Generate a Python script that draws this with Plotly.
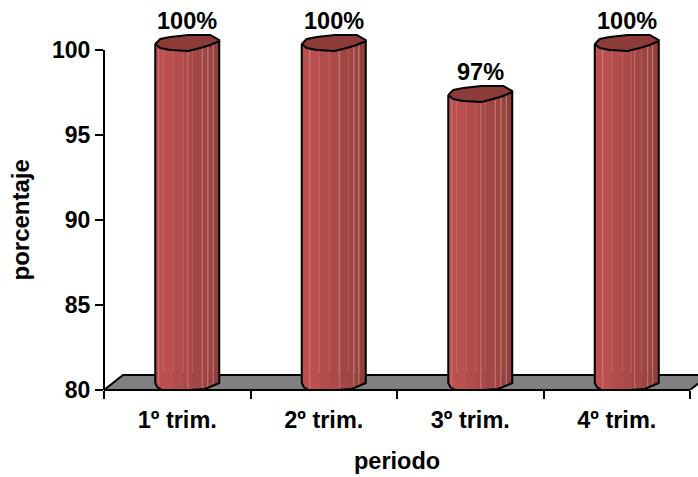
import numpy as np
import plotly.graph_objects as go

# Quarterly percentages
categories = ["1º trim.", "2º trim.", "3º trim.", "4º trim."]
values = [100, 100, 97, 100]
y_ticks = [80, 85, 90, 95, 100]

# Pixel scale of the value area, used to turn 3D-look offsets into data units
PLOT_L, PLOT_R, PLOT_T, PLOT_B = 104, 690, 50, 390
W, H = 698, 477
PX_X = (PLOT_R - PLOT_L) / len(categories)
PX_Y = (PLOT_B - PLOT_T) / (y_ticks[-1] - y_ticks[0])
dx = lambda p: np.asarray(p, float) / PX_X
# screen offsets grow downwards, data values upwards
dy = lambda p: -np.asarray(p, float) / PX_Y

# Cylinder outline, in pixels relative to the bar centre and its front top edge
BAR_SHIFT = 10
top_back = ([-32, -27, -17, 1, 23, 32], [-6, -11, -13, -15, -15, -10])
top_front = ([-32, -27, -17, 1, 13, 23, 32], [-6, -2, 0, 1, -2, -5, -9])
bottom = ([-32, -30, -25, 3, 18, 32], [-7, -3, 0, 0, -1, -7])

# Vertical shading bands of the cylinder body
bands = [(-32, -24, "#ba514f"), (-24, -14, "#bb514f"), (-14, -4, "#b34d4b"),
         (-4, 5, "#ab4a48"), (5, 15, "#a34745"), (15, 21, "#9e4543"),
         (21, 26, "#994341"), (26, 32, "#903f3d")]
# Facet lines differ slightly from one cylinder to the next
highlights = [[-28.5, 0.5, 15, 20.5, 26], [-24, 6, 20, 25], [-28.5, 0.5, 15, 20.5, 26], [-24, 8, 21, 26]]

fig = go.Figure()

# Grey floor of the 3D chart
floor_x = [0, dx(19), 4 + dx(19), 4, 0]
floor_y = [80, 80 + dy(-15), 80 + dy(-15), 80, 80]
fig.add_trace(go.Scatter(x=floor_x, y=floor_y, mode="lines", fill="toself", fillcolor="#808080",
                         line=dict(color="black", width=2), hoverinfo="skip"))

for i, v in enumerate(values):
    cx = i + 0.5 + dx(BAR_SHIFT)
    # shaded strips of the body
    for x0, x1, colour in bands:
        xs = np.linspace(x0, x1, 6)
        upper = v + dy(np.interp(xs, *top_front))
        lower = 80 + dy(np.interp(xs, *bottom))
        fig.add_trace(go.Scatter(
            x=np.concatenate([cx + dx(xs), cx + dx(xs[::-1])]),
            y=np.concatenate([upper, lower[::-1]]),
            mode="lines", fill="toself", fillcolor=colour, line=dict(color=colour, width=0.5),
            hoverinfo="skip"))
    # thin light lines between facets
    for h in highlights[i]:
        fig.add_trace(go.Scatter(
            x=[cx + dx(h)] * 2,
            y=[v + dy(np.interp(h, *top_front)), 80 + dy(np.interp(h, *bottom))],
            mode="lines", line=dict(color="#cc8583", width=0.8), hoverinfo="skip"))
    # dark top cap
    cap_x = np.concatenate([top_back[0], top_front[0][::-1]])
    cap_y = np.concatenate([top_back[1], top_front[1][::-1]])
    fig.add_trace(go.Scatter(x=cx + dx(cap_x), y=v + dy(cap_y), mode="lines", fill="toself",
                             fillcolor="#8c3b39", line=dict(color="black", width=2),
                             hoverinfo="skip"))
    # body outline
    side_x = np.concatenate([[top_front[0][0]], bottom[0], [top_front[0][-1]]])
    side_y_top = v + dy(top_front[1][0])
    side_y_end = v + dy(top_front[1][-1])
    side_y = np.concatenate([[side_y_top], 80 + dy(bottom[1]), [side_y_end]])
    fig.add_trace(go.Scatter(x=cx + dx(side_x), y=side_y, mode="lines",
                             line=dict(color="black", width=2), hoverinfo="skip"))
    # percentage label above the cap
    fig.add_annotation(x=cx, y=v, text=f"<b>{v}%</b>", showarrow=False, yshift=29,
                       font=dict(family="Liberation Sans", size=23.5, color="black"))

# Axis titles
fig.add_annotation(x=2, xref="x", y=0, yref="paper", yshift=-86, showarrow=False,
                   text="<b>periodo</b>", font=dict(size=23.5))
fig.add_annotation(x=0, xref="paper", y=90, yref="y", xshift=-100, showarrow=False, textangle=-90,
                   text="<b>porcentaje</b>", font=dict(size=24))

# Axis lines stop at the last tick, short of the room kept for the caps and the floor
fig.add_shape(type="line", xref="paper", x0=0, x1=0, yref="y", y0=y_ticks[0], y1=y_ticks[-1],
              line=dict(color="black", width=2), layer="above")
fig.add_shape(type="line", xref="x", x0=0, x1=len(categories), yref="paper", y0=0, y1=0,
              line=dict(color="black", width=2), layer="above")

fig.update_layout(
    width=W, height=H, showlegend=False, paper_bgcolor="white", plot_bgcolor="white",
    margin=dict(l=PLOT_L, r=0, t=0, b=H - PLOT_B, autoexpand=False),
    font=dict(family="Liberation Sans", color="black"),
    xaxis=dict(range=[0, (W - PLOT_L) / PX_X], automargin=False,
               tickvals=[i + 0.5 for i in range(len(categories))],
               ticktext=[f"<b>{c}</b>" for c in categories], ticks="outside", ticklen=9,
               tickcolor="rgba(0,0,0,0)", tickfont=dict(size=23.5), showgrid=False, zeroline=False,
               showline=False,
               minor=dict(tickvals=list(range(len(categories) + 1)), ticks="outside", ticklen=8,
                          tickcolor="black", tickwidth=2, showgrid=False)),
    yaxis=dict(range=[y_ticks[0], y_ticks[0] + PLOT_B / PX_Y], automargin=False,
               tickvals=y_ticks,
               ticktext=[f"<b>{t}</b>" for t in y_ticks], ticks="outside", ticklen=8, tickwidth=2,
               tickcolor="black", tickfont=dict(size=23), showgrid=False, zeroline=False,
               showline=False),
)

fig.write_html("out.html", config={"displayModeBar": False})
